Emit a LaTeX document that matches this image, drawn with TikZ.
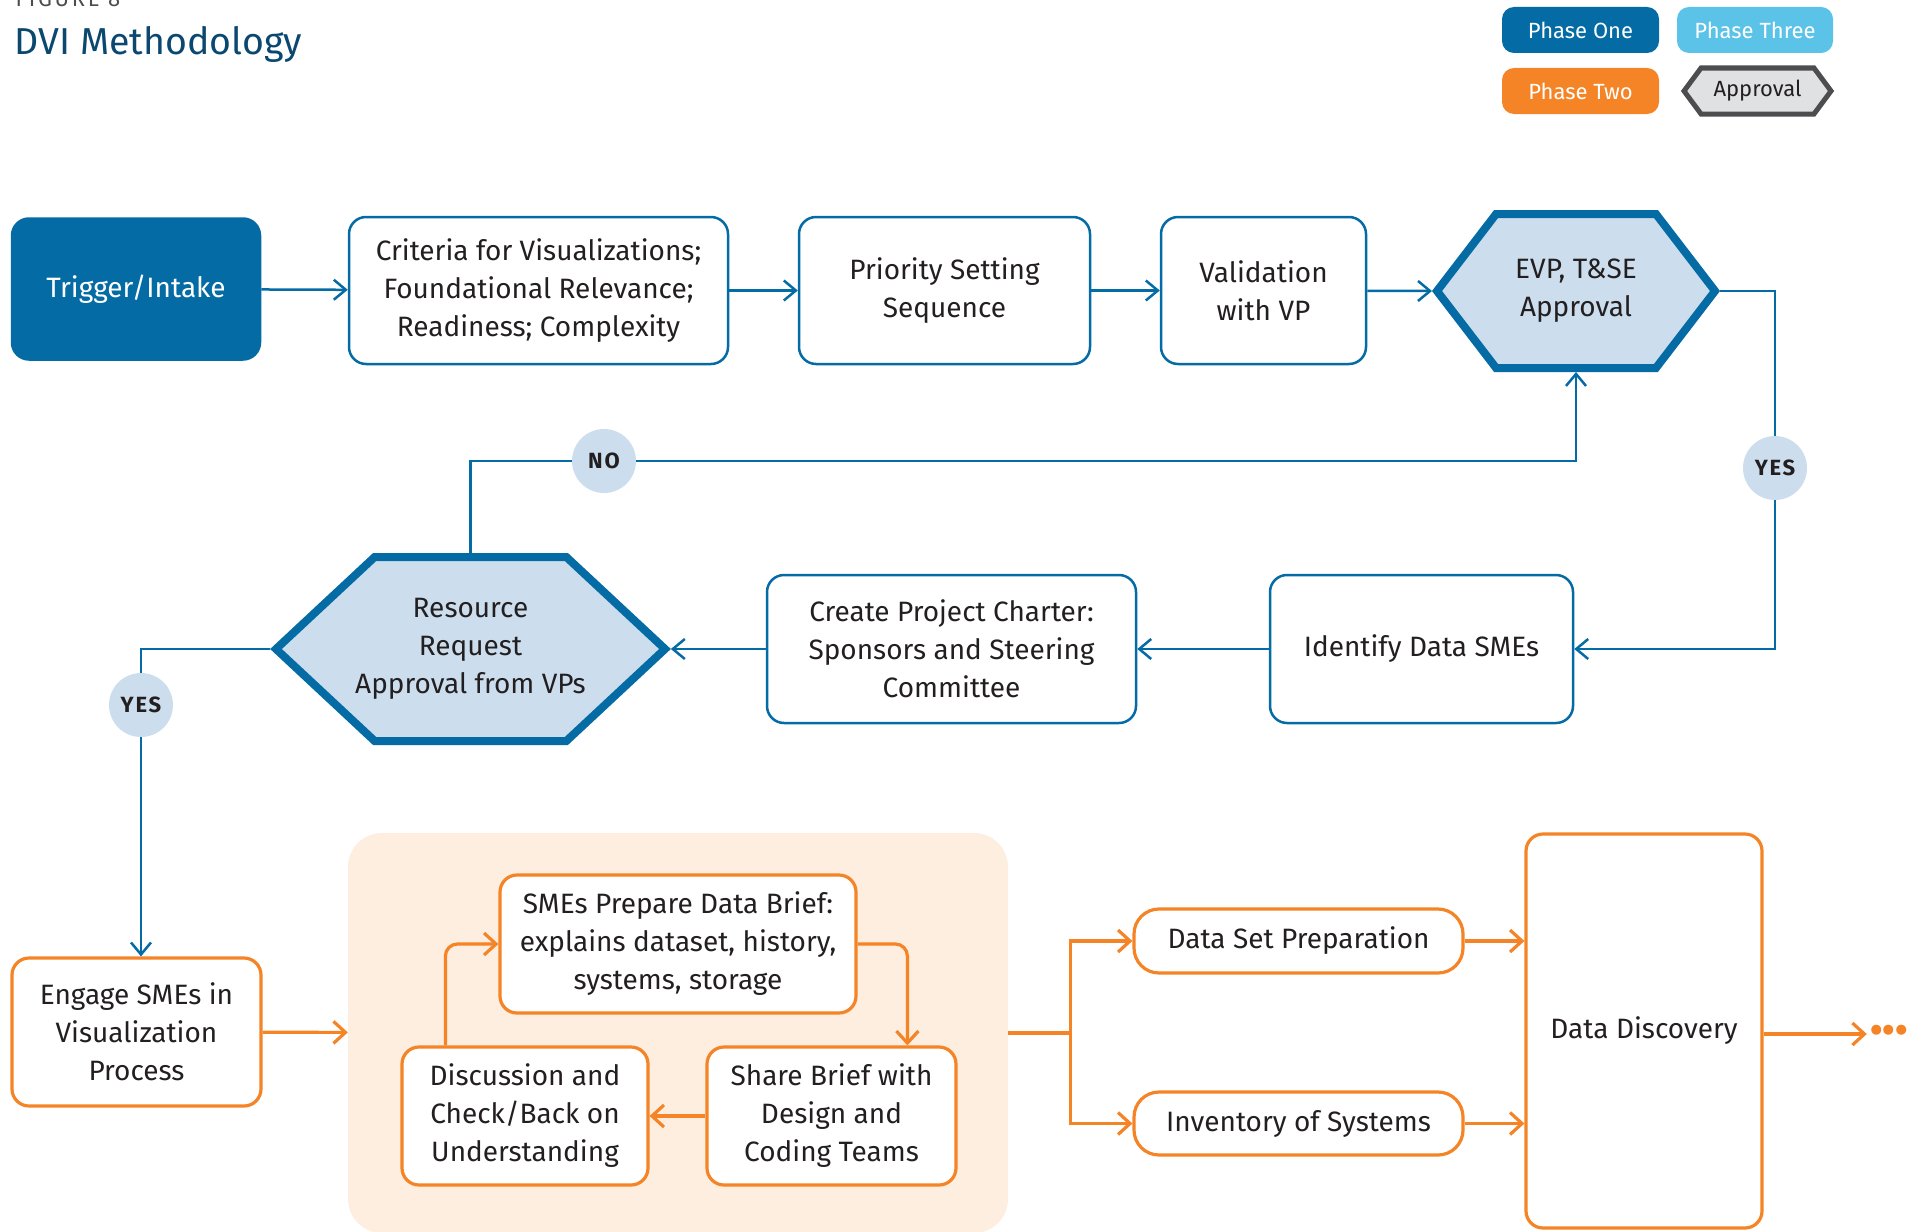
\documentclass[tikz,border=0pt]{standalone}
\usepackage{fontspec}
\setmainfont{Fira Sans}
\usetikzlibrary{arrows.meta,shapes.symbols,calc}

\definecolor{dviblue}{RGB}{4,107,164}
\definecolor{dvisky}{RGB}{91,194,232}
\definecolor{dviorange}{RGB}{245,132,38}
\definecolor{dvipale}{RGB}{204,222,238}
\definecolor{dvipeach}{RGB}{253,238,224}
\definecolor{dvititle}{RGB}{11,72,112}
\definecolor{dvitext}{RGB}{35,31,32}
\definecolor{dvigray}{RGB}{77,77,79}
\definecolor{dvilight}{RGB}{224,225,227}

\newcommand{\hexline}[1]{\makebox[0pt]{#1}}

\begin{document}
\begin{tikzpicture}[x=1pt, y=-1pt,
    every node/.style={text=dvitext, align=center, font=\fontsize{28}{38}\selectfont},
    bluebox/.style={draw=dviblue, line width=2.5pt, fill=white, rounded corners=17pt},
    orangebox/.style={draw=dviorange, line width=3.2pt, fill=white, rounded corners=17pt},
    pill/.style={orangebox, rounded corners=25pt},
    approvalhex/.style={signal, signal to=west and east, draw=dviblue, line width=8pt, fill=dvipale},
    legendbox/.style={rounded corners=12pt, text=white, font=\fontsize{22}{26}\selectfont},
    answer/.style={circle, fill=dvipale, minimum size=64pt, inner sep=0pt, font=\fontsize{22}{26}\bfseries\addfontfeatures{LetterSpace=8}},
    blueline/.style={draw=dviblue, line width=2.5pt},
    bluearrow/.style={blueline, -{Straight Barb[length=12pt, width=20pt]}},
    orangeline/.style={draw=dviorange, line width=3.2pt},
    orangearrow/.style={orangeline, -{Straight Barb[length=12pt, width=22pt]}}]

    \useasboundingbox (0,0) rectangle (1921,1231);

    % heading and legend
    \node [anchor=base west, text=dvigray, font=\fontsize{22}{26}\selectfont\addfontfeatures{LetterSpace=12}] (figno) at (12, 7) {FIGURE 8};
    \node [anchor=base west, text=dvititle, font=\fontsize{37.5}{44}\selectfont] (title) at (11, 55) {DVI Methodology};
    \node [legendbox, fill=dviblue, minimum width=157pt, minimum height=46pt] (leg1) at (1580.5, 30) {Phase One};
    \node [legendbox, fill=dvisky, minimum width=156pt, minimum height=46pt] (leg3) at (1755, 30) {Phase Three};
    \node [legendbox, fill=dviorange, minimum width=157pt, minimum height=46pt] (leg2) at (1580.5, 91) {Phase Two};
    \node [signal, signal to=west and east, signal pointer angle=107, draw=dvigray, line width=5pt, fill=dvilight,
        minimum width=147pt, minimum height=46pt, inner sep=0pt, font=\fontsize{22}{26}\selectfont] (legA) at (1757.5, 91) {Approval};

    % phase one, top row
    \node [bluebox, fill=dviblue, draw=dviblue, text=white, minimum width=248pt, minimum height=141pt] (trig) at (136, 289) {Trigger/Intake};
    \node [bluebox, minimum width=379pt, minimum height=147pt] (crit) at (538.5, 290.5) {Criteria for Visualizations;\\Foundational Relevance;\\Readiness; Complexity};
    \node [bluebox, minimum width=291pt, minimum height=147pt] (prio) at (944.5, 290.5) {Priority Setting\\Sequence};
    \node [bluebox, minimum width=205pt, minimum height=147pt] (valid) at (1263.5, 290.5) {Validation\\with VP};
    \node [approvalhex, signal pointer angle=105, minimum width=278pt, minimum height=154pt, inner sep=0pt] (evp) at (1576, 291) {\hexline{EVP, T\&SE}\\\hexline{Approval}};

    % phase one, second row
    \node [bluebox, minimum width=303pt, minimum height=148pt] (ident) at (1421.5, 649) {Identify Data SMEs};
    \node [bluebox, minimum width=369pt, minimum height=148pt] (charter) at (951.5, 649) {Create Project Charter:\\Sponsors and Steering\\Committee};
    \node [approvalhex, signal pointer angle=86, minimum width=389pt, minimum height=184pt, inner sep=0pt] (res) at (470.5, 649) {\hexline{Resource}\\\hexline{Request}\\\hexline{Approval from VPs}};

    \node [answer] (yesR) at (1775, 468) {YES};
    \node [answer] (no) at (604, 461) {NO};
    \node [answer] (yesL) at (141, 705) {YES};

    \draw [bluearrow] (trig) -- (crit);
    \draw [bluearrow] (crit) -- (prio);
    \draw [bluearrow] (prio) -- (valid);
    \draw [bluearrow] (valid) -- (evp.west);
    \draw [blueline] (evp.east) -| (yesR);
    \draw [bluearrow] (yesR) |- (ident.east);
    \draw [bluearrow] (ident) -- (charter);
    \draw [bluearrow] (charter) -- (res.east);
    \draw [blueline] (res.north) |- (no);
    \draw [bluearrow] (no) -| (evp.south);
    \draw [blueline] (res.west) -| (yesL);

    % phase two
    \node [orangebox, minimum width=249pt, minimum height=148pt] (engage) at (136.5, 1032) {Engage SMEs in\\Visualization\\Process};
    \draw [bluearrow] (yesL) -- (yesL |- engage.north);
    \node [fill=dvipeach, rounded corners=34pt, minimum width=660pt, minimum height=400pt] (brieflp) at (678, 1033) {};
    \node [orangebox, minimum width=356pt, minimum height=138pt] (brief) at (678, 944) {SMEs Prepare Data Brief:\\explains dataset, history,\\systems, storage};
    \node [orangebox, minimum width=246pt, minimum height=138pt] (disc) at (525, 1116) {Discussion and\\Check/Back on\\Understanding};
    \node [orangebox, minimum width=249pt, minimum height=138pt] (share) at (831.5, 1116) {Share Brief with\\Design and\\Coding Teams};
    \node [pill, minimum width=329pt, minimum height=64pt] (dsp) at (1298.5, 941) {Data Set Preparation};
    \node [pill, minimum width=329pt, minimum height=63pt] (inv) at (1298.5, 1123.5) {Inventory of Systems};
    \node [orangebox, minimum width=236pt, minimum height=394pt] (dd) at (1644, 1031) {Data Discovery};
    \node [text=dviorange, font=\fontsize{36}{40}\bfseries] (more) at (1889, 1034) {•••};

    \draw [orangearrow] (engage) -- (brieflp);
    \draw [orangearrow, rounded corners=12pt] ($(disc.north west)+(45,0)$) |- (brief.west);
    \draw [orangearrow, rounded corners=12pt] (brief.east) -| ($(share.north west)+(202,0)$);
    \draw [orangearrow] (share) -- (disc);
    \coordinate (fork) at ($(brieflp.east)+(62,0)$);
    \draw [orangeline] (brieflp.east) -- (fork);
    \draw [orangearrow] (fork) |- (dsp.west);
    \draw [orangearrow] (fork) |- (inv.west);
    \draw [orangearrow] (dsp.east) -- (dsp.east -| dd.west);
    \draw [orangearrow] (inv.east) -- (inv.east -| dd.west);
    \draw [orangearrow] (dd.east |- more) -- (more.west);
\end{tikzpicture}
\end{document}
